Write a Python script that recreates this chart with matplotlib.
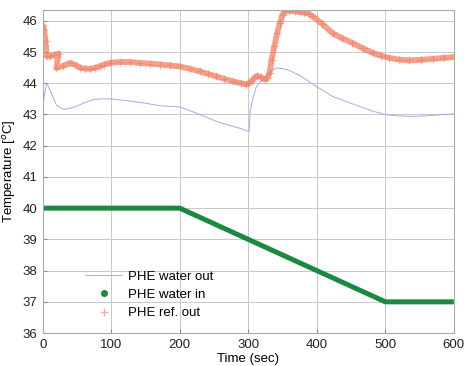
import matplotlib
matplotlib.use("Agg")
import matplotlib.pyplot as plt
from matplotlib.lines import Line2D

plt.rcParams["font.family"] = ["Liberation Sans", "DejaVu Sans"]

# PHE ref. out (orange)
ref_t = [0, 2, 4, 6, 10, 16, 23, 20, 30, 40, 48, 55, 62, 69, 76, 83, 90, 98, 112, 127, 142, 156, 171, 185, 200, 215, 229, 241, 253, 265, 278, 290, 297, 301, 305, 309, 313, 318, 324, 328, 331, 334, 338, 342, 346, 350, 354, 360, 368, 375, 382, 389, 394, 408, 423, 437, 452, 467, 482, 494, 506, 520, 535, 552, 569, 585, 600]
ref_v = [45.85, 45.72, 45.35, 44.86, 44.86, 44.9, 44.95, 44.49, 44.56, 44.65, 44.58, 44.49, 44.47, 44.46, 44.49, 44.54, 44.6, 44.65, 44.68, 44.68, 44.65, 44.63, 44.6, 44.57, 44.54, 44.46, 44.38, 44.3, 44.22, 44.14, 44.06, 44.0, 43.96, 44.0, 44.08, 44.18, 44.24, 44.2, 44.12, 44.18, 44.33, 44.75, 45.18, 45.6, 45.93, 46.2, 46.3, 46.32, 46.3, 46.28, 46.26, 46.22, 46.14, 45.9, 45.6, 45.44, 45.29, 45.12, 44.97, 44.88, 44.81, 44.76, 44.73, 44.75, 44.78, 44.81, 44.84]

# PHE water out (blue)
wo_t = [0, 3, 6, 12, 20, 30, 40, 49, 60, 74, 86, 98, 120, 145, 171, 200, 215, 229, 241, 253, 265, 278, 290, 300, 301, 303, 307, 312, 318, 324, 332, 340, 350, 360, 375, 389, 405, 423, 442, 462, 480, 499, 517, 535, 552, 569, 585, 600]
wo_v = [43.26, 43.7, 44.0, 43.7, 43.3, 43.16, 43.2, 43.26, 43.37, 43.48, 43.5, 43.5, 43.45, 43.38, 43.28, 43.24, 43.12, 43.0, 42.89, 42.78, 42.7, 42.62, 42.54, 42.46, 42.46, 43.16, 43.55, 43.9, 44.06, 44.17, 44.35, 44.49, 44.47, 44.41, 44.25, 44.05, 43.82, 43.58, 43.42, 43.26, 43.12, 43.0, 42.96, 42.94, 42.95, 42.97, 43.0, 43.02]

# PHE water in (green)
wi_t = [0, 200, 500, 600]
wi_v = [40, 40, 37, 37]

xticks = [0, 100, 200, 300, 400, 500, 600]
yticks = [36, 37, 38, 39, 40, 41, 42, 43, 44, 45, 46]

blue = "#a8a8ee"
green = "#1a8a40"
orange = "#f0785a"

fig = plt.figure(figsize=(4.65, 3.66), dpi=100)
ax = fig.add_axes([0.092, 0.090, 0.884, 0.883])

ax.plot(wo_t, wo_v, color=blue, lw=0.7)
ax.plot(wi_t, wi_v, color=green, lw=3.6, solid_capstyle="butt")
ax.plot(ref_t, ref_v, color=orange, lw=4.2, alpha=0.7, solid_capstyle="round")
ax.plot(ref_t, ref_v, ls="none", marker="+", ms=6, mew=0.8, color=orange, alpha=0.5)

ax.set_xlim(0, 600)
ax.set_ylim(36, 46.35)
ax.set_xticks(xticks)
ax.set_yticks(yticks)
ax.grid(True, color="#c8c8c8", lw=0.7)
ax.set_axisbelow(True)
ax.tick_params(direction="in", length=3, pad=4, colors="#888888", labelcolor="#222222", labelsize=9.5)
for s in ax.spines.values():
    s.set_color("#aaaaaa")
    s.set_linewidth(0.8)

ax.set_xlabel("Time (sec)", fontsize=9.5, labelpad=2)
ax.set_ylabel("Temperature [$^o$C]", fontsize=9.5, labelpad=3)

handles = [
    Line2D([], [], color=blue, lw=0.7),
    Line2D([], [], ls="none", marker="o", ms=4, color=green),
    Line2D([], [], ls="none", marker="+", ms=6, color=orange, alpha=0.6),
]
ax.legend(handles, ["PHE water out", "PHE water in", "PHE ref. out"],
          loc="upper left", bbox_to_anchor=(0.075, 0.23), frameon=False,
          fontsize=9.5, handlelength=2.8, labelspacing=0.45, handletextpad=0.45)

fig.savefig("out.png", dpi=100)
